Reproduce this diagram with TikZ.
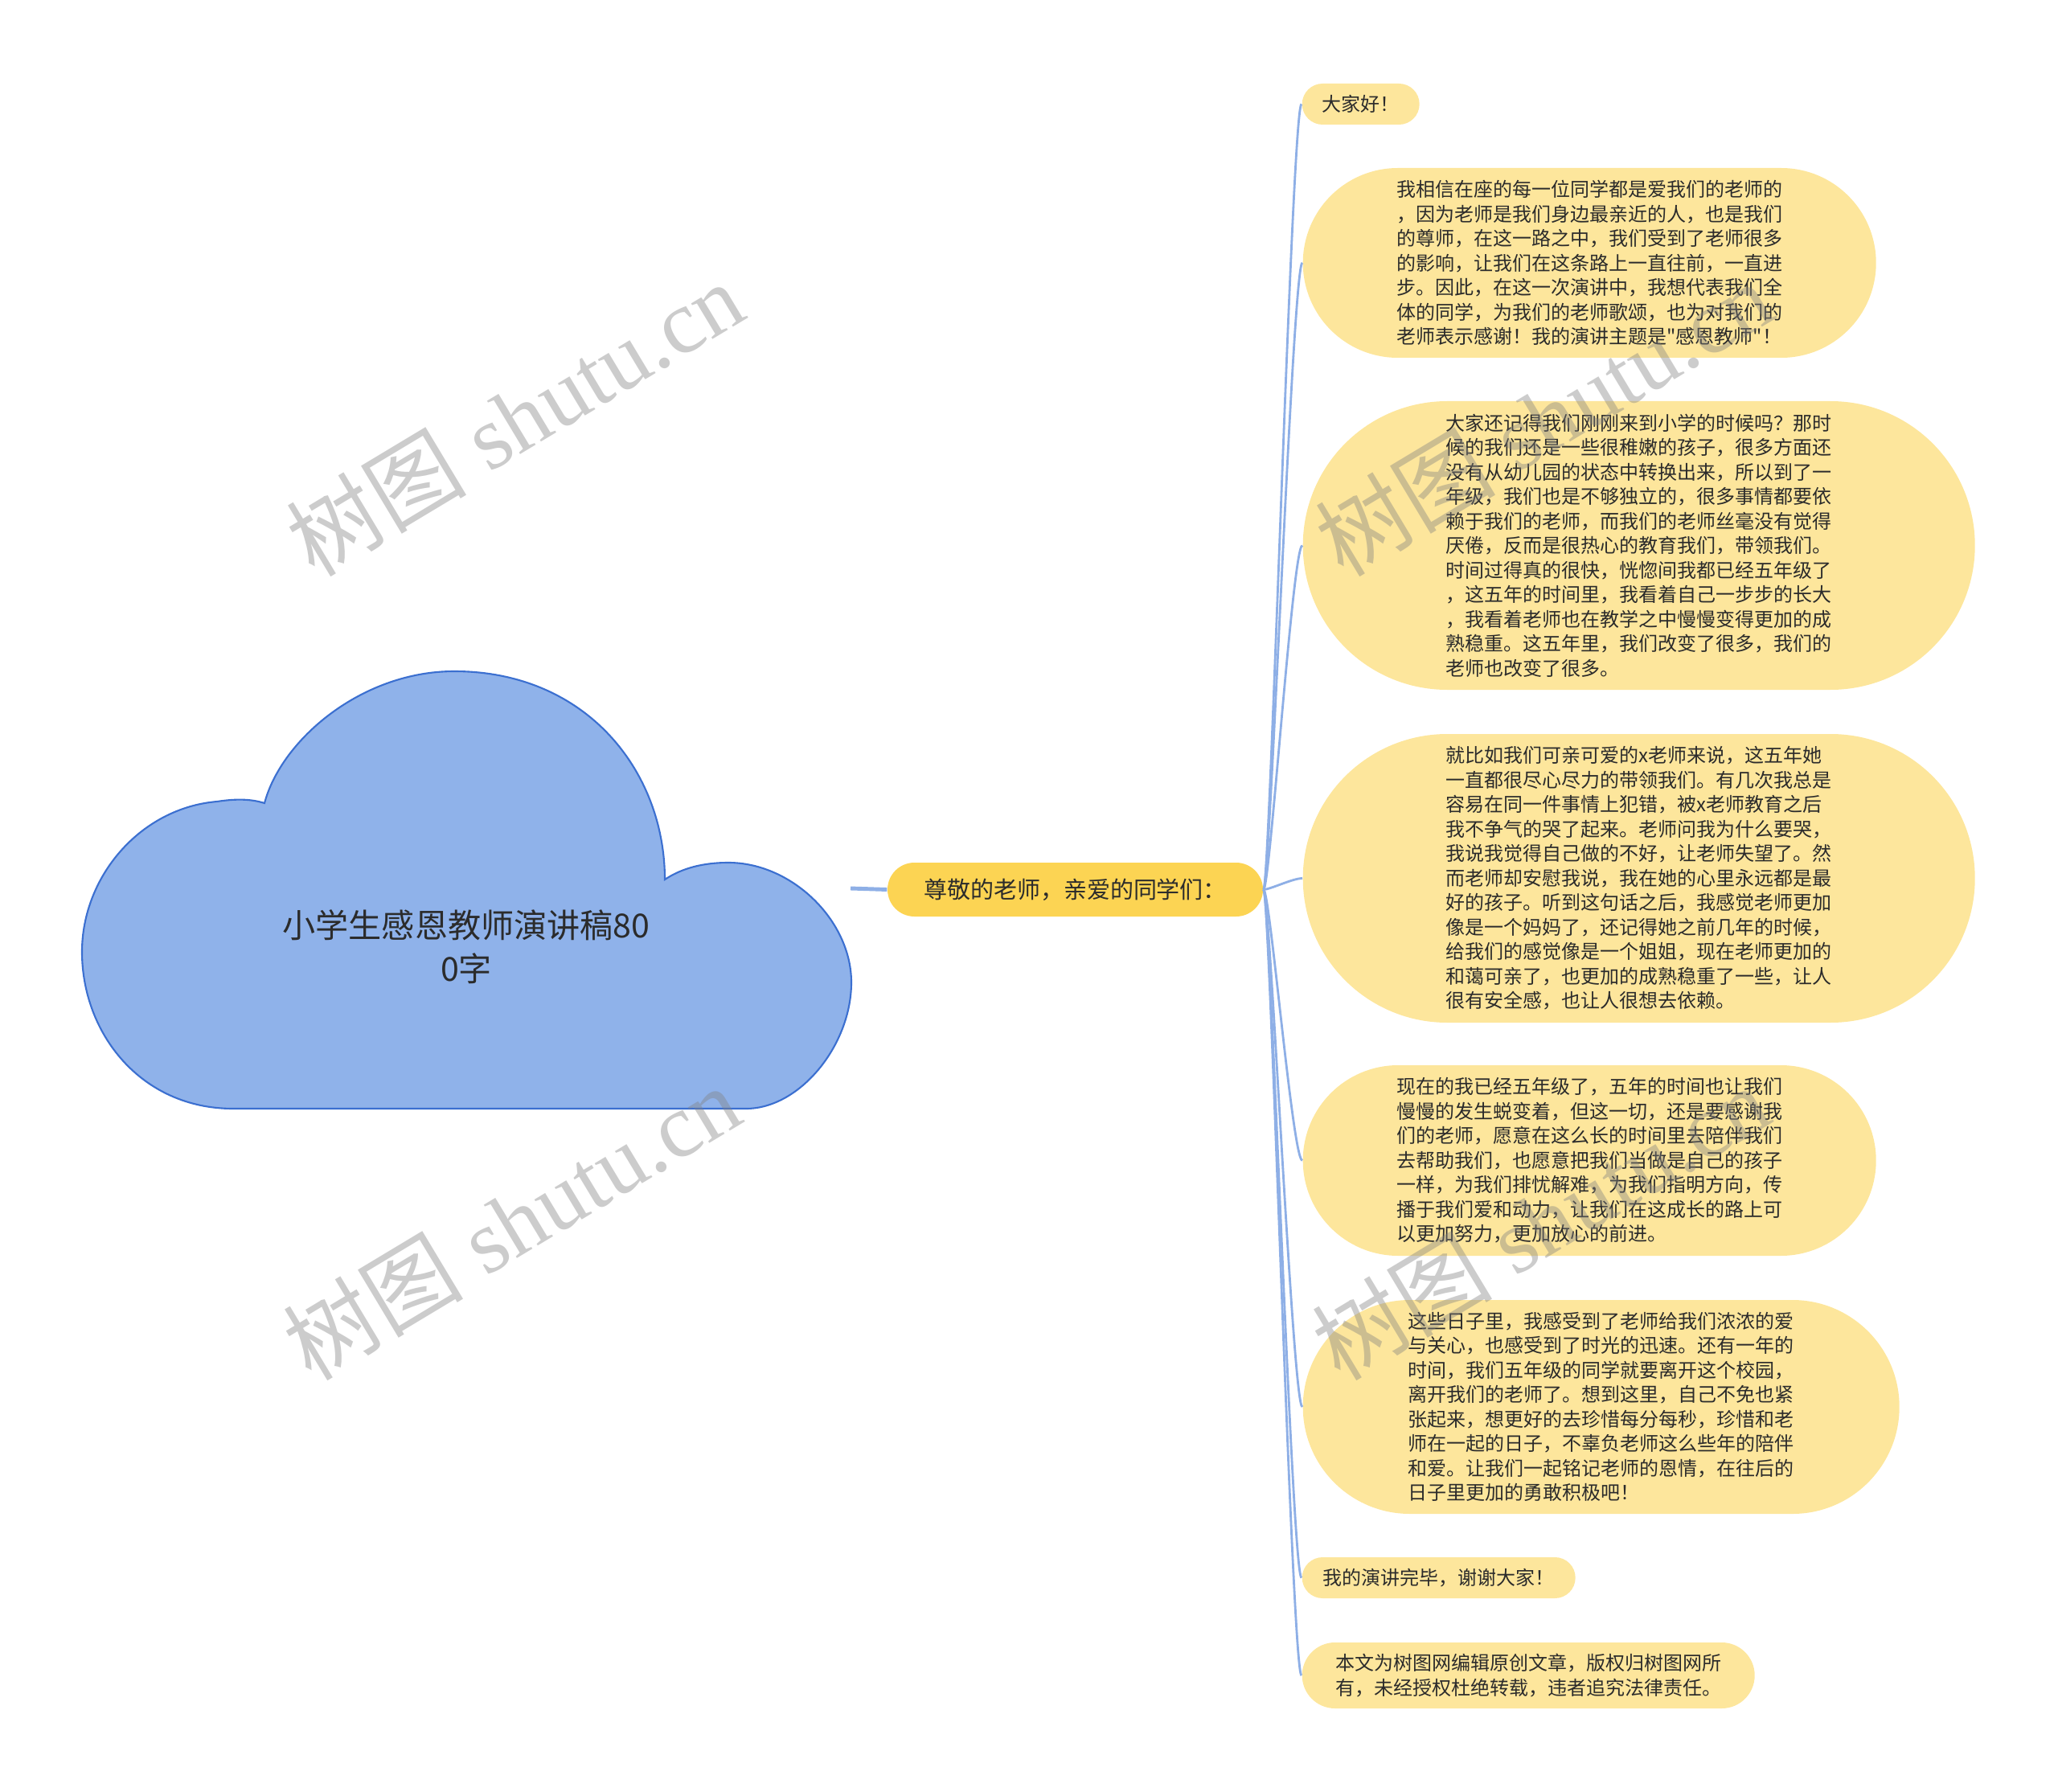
\documentclass[tikz,border=0pt]{standalone}
\usepackage{fontspec}
\setmainfont{Liberation Serif}
\newfontfamily\cjk{Noto Sans CJK SC}
\usetikzlibrary{shapes.misc}

\definecolor{rootblue}{HTML}{8FB2EA}
\definecolor{rootborder}{HTML}{3B6FD0}
\definecolor{mainyellow}{HTML}{FCD453}
\definecolor{leafyellow}{HTML}{FDE69C}
\definecolor{linkblue}{HTML}{8EAFE6}
\definecolor{textdark}{HTML}{2B2B2B}

\begin{document}
\begin{tikzpicture}[
    x=1cm, y=-1cm,
    cloudtxt/.style={font=\cjk\fontsize{11.7pt}{15.4pt}\selectfont,
                     text=textdark, align=center},
    mainbox/.style={rounded rectangle, fill=mainyellow, inner sep=0pt,
                    minimum width=4.67cm, minimum height=0.67cm,
                    font=\cjk\fontsize{8.25pt}{10pt}\selectfont,
                    text=textdark},
    leaf/.style={rounded rectangle, fill=leafyellow, inner sep=0pt,
                 anchor=west, align=left,
                 font=\cjk\fontsize{6.83pt}{8.68pt}\selectfont,
                 text=textdark},
    trunk/.style={linkblue, line width=1.4pt},
    link/.style={linkblue, line width=0.8pt},
    wmark/.style={font=\fontsize{32pt}{32pt}\selectfont, text=gray,
                  opacity=0.4, rotate=31},
]
\useasboundingbox (0,0) rectangle (25.6,22.29);

% --- Cloud (root) ---
\draw[fill=rootblue, draw=rootborder, line width=0.6pt]
    (2.90,13.79) -- (9.28,13.79)
    .. controls (9.95,13.79) and (10.59,13.0) .. (10.59,12.22)
    .. controls (10.59,11.45) and (9.85,10.73) .. (9.06,10.73)
    .. controls (8.70,10.73) and (8.45,10.82) .. (8.27,10.94)
    .. controls (8.27,9.60) and (7.30,8.35) .. (5.65,8.35)
    .. controls (4.50,8.35) and (3.50,9.20) .. (3.29,9.99)
    .. controls (3.10,9.93) and (2.90,9.94) .. (2.70,9.97)
    .. controls (1.75,10.05) and (1.02,10.90) .. (1.02,11.84)
    .. controls (1.02,12.85) and (1.75,13.79) .. (2.90,13.79) -- cycle;
\node[cloudtxt] (root) at (5.80,11.78) {小学生感恩教师演讲稿80\\0字};
\coordinate (rootR) at (10.58,11.05);

% --- Main branch ---
\node[mainbox] (main) at (13.375,11.065) {尊敬的老师，亲爱的同学们：};
\draw[trunk] (rootR) -- (main.west);

% --- Leaves ---
\node[leaf, minimum width=1.46cm, minimum height=0.51cm] (hello)
    at (16.19,1.295) {大家好！};
\node[leaf, minimum width=7.13cm, minimum height=2.36cm] (believe)
    at (16.20,3.27) {我相信在座的每一位同学都是爱我们的老师的\\
    ，因为老师是我们身边最亲近的人，也是我们\\
    的尊师，在这一路之中，我们受到了老师很多\\
    的影响，让我们在这条路上一直往前，一直进\\
    步。因此，在这一次演讲中，我想代表我们全\\
    体的同学，为我们的老师歌颂，也为对我们的\\
    老师表示感谢！我的演讲主题是"感恩教师"！};
\node[leaf, minimum width=8.36cm, minimum height=3.59cm] (remember)
    at (16.20,6.785) {大家还记得我们刚刚来到小学的时候吗？那时\\
    候的我们还是一些很稚嫩的孩子，很多方面还\\
    没有从幼儿园的状态中转换出来，所以到了一\\
    年级，我们也是不够独立的，很多事情都要依\\
    赖于我们的老师，而我们的老师丝毫没有觉得\\
    厌倦，反而是很热心的教育我们，带领我们。\\
    时间过得真的很快，恍惚间我都已经五年级了\\
    ，这五年的时间里，我看着自己一步步的长大\\
    ，我看着老师也在教学之中慢慢变得更加的成\\
    熟稳重。这五年里，我们改变了很多，我们的\\
    老师也改变了很多。};
\node[leaf, minimum width=8.36cm, minimum height=3.59cm] (mother)
    at (16.20,10.925) {就比如我们可亲可爱的x老师来说，这五年她\\
    一直都很尽心尽力的带领我们。有几次我总是\\
    容易在同一件事情上犯错，被x老师教育之后\\
    我不争气的哭了起来。老师问我为什么要哭，\\
    我说我觉得自己做的不好，让老师失望了。然\\
    而老师却安慰我说，我在她的心里永远都是最\\
    好的孩子。听到这句话之后，我感觉老师更加\\
    像是一个妈妈了，还记得她之前几年的时候，\\
    给我们的感觉像是一个姐姐，现在老师更加的\\
    和蔼可亲了，也更加的成熟稳重了一些，让人\\
    很有安全感，也让人很想去依赖。};
\node[leaf, minimum width=7.13cm, minimum height=2.37cm] (fifth)
    at (16.20,14.435) {现在的我已经五年级了，五年的时间也让我们\\
    慢慢的发生蜕变着，但这一切，还是要感谢我\\
    们的老师，愿意在这么长的时间里去陪伴我们\\
    去帮助我们，也愿意把我们当做是自己的孩子\\
    一样，为我们排忧解难，为我们指明方向，传\\
    播于我们爱和动力，让我们在这成长的路上可\\
    以更加努力，更加放心的前进。};
\node[leaf, minimum width=7.42cm, minimum height=2.66cm] (days)
    at (16.20,17.50) {这些日子里，我感受到了老师给我们浓浓的爱\\
    与关心，也感受到了时光的迅速。还有一年的\\
    时间，我们五年级的同学就要离开这个校园，\\
    离开我们的老师了。想到这里，自己不免也紧\\
    张起来，想更好的去珍惜每分每秒，珍惜和老\\
    师在一起的日子，不辜负老师这么些年的陪伴\\
    和爱。让我们一起铭记老师的恩情，在往后的\\
    日子里更加的勇敢积极吧！};
\node[leaf, minimum width=3.40cm, minimum height=0.51cm] (thanks)
    at (16.19,19.625) {我的演讲完毕，谢谢大家！};
\node[leaf, minimum width=5.63cm, minimum height=0.82cm] (note)
    at (16.19,20.84) {本文为树图网编辑原创文章，版权归树图网所\\
    有，未经授权杜绝转载，违者追究法律责任。};

% --- Links ---
\draw[link] (main.east) .. controls +(0.08,0) and +(-0.12,0) .. (hello.west);
\draw[link] (main.east) .. controls +(0.08,0) and +(-0.12,0) .. (believe.west);
\draw[link] (main.east) .. controls +(0.08,0) and +(-0.12,0) .. (remember.west);
\draw[link] (main.east) .. controls +(0.08,0) and +(-0.12,0) .. (mother.west);
\draw[link] (main.east) .. controls +(0.08,0) and +(-0.12,0) .. (fifth.west);
\draw[link] (main.east) .. controls +(0.08,0) and +(-0.12,0) .. (days.west);
\draw[link] (main.east) .. controls +(0.08,0) and +(-0.12,0) .. (thanks.west);
\draw[link] (main.east) .. controls +(0.08,0) and +(-0.12,0) .. (note.west);

% --- Watermarks ---
\node[wmark] (wm1) at (6.40,5.20)   {{\cjk 树图} shutu.cn};
\node[wmark] (wm2) at (6.36,15.20)  {{\cjk 树图} shutu.cn};
\node[wmark] (wm3) at (19.20,5.20)  {{\cjk 树图} shutu.cn};
\node[wmark] (wm4) at (19.16,15.20) {{\cjk 树图} shutu.cn};

\end{tikzpicture}
\end{document}
